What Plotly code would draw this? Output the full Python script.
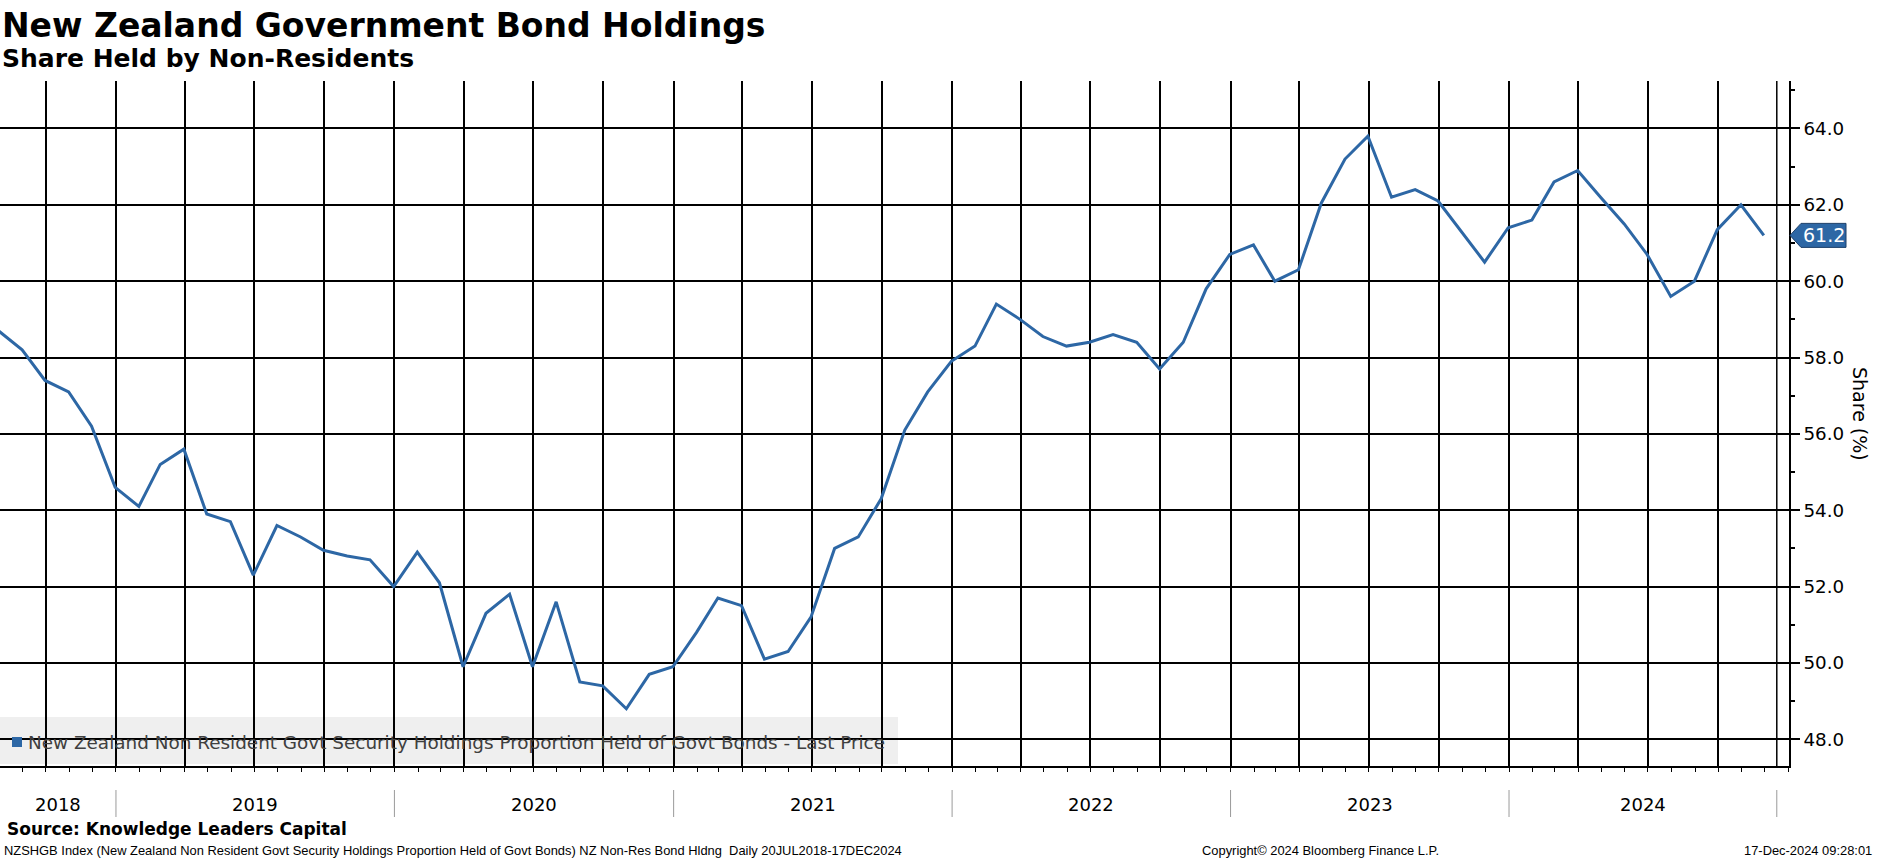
import pandas as pd
import plotly.graph_objects as go

# ---------------- data (month-end readings, %) ----------------
series_name = "New Zealand Non Resident Govt Security Holdings Proportion Held of Govt Bonds - Last Price"
first_month_end = "2018-07-31"
values_2018 = [58.7, 58.2, 57.4, 57.1, 56.2, 54.6]                      # Jul-Dec
values_2019 = [54.1, 55.2, 55.6, 53.9, 53.7, 52.3, 53.6, 53.3, 52.95, 52.8, 52.7, 52.0]
values_2020 = [52.9, 52.1, 49.9, 51.3, 51.8, 49.9, 51.6, 49.5, 49.4, 48.8, 49.7, 49.9]
values_2021 = [50.8, 51.7, 51.5, 50.1, 50.3, 51.2, 53.0, 53.3, 54.3, 56.1, 57.1, 57.9]
values_2022 = [58.3, 59.4, 59.0, 58.55, 58.3, 58.4, 58.6, 58.4, 57.7, 58.4, 59.8, 60.7]
values_2023 = [60.95, 60.0, 60.3, 62.05, 63.2, 63.8, 62.2, 62.4, 62.1, 61.3, 60.5, 61.4]
values_2024 = [61.6, 62.6, 62.9, 62.2, 61.5, 60.7, 59.6, 60.0, 61.35, 62.0, 61.2]  # Jan-Nov
year_labels = ["2018", "2019", "2020", "2021", "2022", "2023", "2024"]
y_tick_values = [48, 50, 52, 54, 56, 58, 60, 62, 64]

values = values_2018 + values_2019 + values_2020 + values_2021 + values_2022 + values_2023 + values_2024
dates = pd.date_range(first_month_end, periods=len(values), freq=pd.offsets.MonthEnd())

# ---------------- layout geometry ----------------
W, H = 1877, 859
PL, PR, PT, PB = 0, 1789, 81, 766          # plot box in pixels


def px(x):
    return (x - PL) / (PR - PL)


def py(y):
    return (PB - y) / (PB - PT)


X_START = pd.Timestamp("2018-08-02")
X_END = pd.Timestamp("2025-01-02")
DATA_END = pd.Timestamp("2024-12-17")
Y_MIN, Y_MAX = 47.30, 65.244

BLUE = "#2d67a5"
GRID_W = 1.5

fig = go.Figure()
fig.add_trace(go.Scatter(x=dates, y=values, mode="lines", name=series_name,
                         line=dict(color=BLUE, width=3), showlegend=False,
                         hovertemplate="%{x|%b %Y}: %{y:.1f}%<extra></extra>"))

shapes = []
annotations = []

# last vertical frame line at data end
shapes.append(dict(type="line", xref="x", yref="paper", x0=DATA_END, x1=DATA_END, y0=0, y1=1,
                   line=dict(color="black", width=GRID_W), layer="below"))

# year separators and year labels
for i, yl in enumerate(year_labels):
    yr = int(yl)
    start = max(pd.Timestamp(f"{yr}-01-01"), X_START)
    end = min(pd.Timestamp(f"{yr + 1}-01-01"), DATA_END)
    mid = start + (end - start) / 2
    annotations.append(dict(text=yl, xref="x", yref="paper", x=mid, y=py(804),
                            xanchor="center", yanchor="middle", showarrow=False,
                            font=dict(family="DejaVu Sans", size=18, color="black")))
    if yr > 2018:
        shapes.append(dict(type="line", xref="x", yref="paper", x0=start, x1=start,
                           y0=py(790), y1=py(817), line=dict(color="#9a9a9a", width=1)))
shapes.append(dict(type="line", xref="x", yref="paper", x0=DATA_END, x1=DATA_END,
                   y0=py(790), y1=py(817), line=dict(color="#9a9a9a", width=1)))

# legend box (below gridlines) with blue square and text
shapes.append(dict(type="rect", xref="paper", yref="paper", x0=px(0), x1=px(898), y0=py(764), y1=py(717),
                   fillcolor="#efefef", line=dict(width=0), layer="below"))
shapes.append(dict(type="rect", xref="paper", yref="paper", x0=px(12), x1=px(22), y0=py(747), y1=py(737),
                   fillcolor=BLUE, line=dict(width=0)))
annotations.append(dict(text=series_name, xref="paper", yref="paper", x=px(26), y=py(742),
                        xanchor="left", yanchor="middle", showarrow=False,
                        font=dict(family="DejaVu Sans", size=18.4, color="#404040")))

# last value tag on the right axis
last_val = values[-1]
yv = (last_val - Y_MIN) / (Y_MAX - Y_MIN)
ypx = PB - yv * (PB - PT)
path = (f"M {px(1790)} {py(ypx)} L {px(1801)} {py(ypx - 12)} L {px(1846)} {py(ypx - 12)} "
        f"L {px(1846)} {py(ypx + 12)} L {px(1801)} {py(ypx + 12)} Z")
shapes.append(dict(type="path", xref="paper", yref="paper", path=path,
                   fillcolor=BLUE, line=dict(color="#1d3f68", width=1)))
annotations.append(dict(text=f"{last_val:.1f}", xref="paper", yref="paper", x=px(1824), y=yv,
                        xanchor="center", yanchor="middle", showarrow=False,
                        font=dict(family="DejaVu Sans", size=19, color="white")))

# axis title (reads top to bottom)
annotations.append(dict(text="Share (%)", xref="paper", yref="paper", x=px(1860), y=py(414),
                        xanchor="center", yanchor="middle", textangle=90, showarrow=False,
                        font=dict(family="DejaVu Sans", size=19, color="black")))

# titles
annotations.append(dict(text="<b>New Zealand Government Bond Holdings</b>", xref="paper", yref="paper",
                        x=px(0), y=py(25), xanchor="left", yanchor="middle", showarrow=False,
                        font=dict(family="DejaVu Sans", size=33, color="black")))
annotations.append(dict(text="<b>Share Held by Non-Residents</b>", xref="paper", yref="paper",
                        x=px(0), y=py(58), xanchor="left", yanchor="middle", showarrow=False,
                        font=dict(family="DejaVu Sans", size=25, color="black")))

# source and footer
annotations.append(dict(text="<b>Source: Knowledge Leaders Capital</b>", xref="paper", yref="paper",
                        x=px(5), y=py(829), xanchor="left", yanchor="middle", showarrow=False,
                        font=dict(family="DejaVu Sans", size=17, color="black")))
footer_font = dict(family="Liberation Sans", size=12.9, color="black")
annotations.append(dict(text="NZSHGB Index (New Zealand Non Resident Govt Security Holdings Proportion Held of Govt Bonds) "
                             "NZ Non-Res Bond Hldng  Daily 20JUL2018-17DEC2024",
                        xref="paper", yref="paper", x=px(2), y=py(850), xanchor="left", yanchor="middle",
                        showarrow=False, font=footer_font))
annotations.append(dict(text="Copyright© 2024 Bloomberg Finance L.P.", xref="paper", yref="paper",
                        x=px(1200), y=py(850), xanchor="left", yanchor="middle", showarrow=False, font=footer_font))
annotations.append(dict(text="17-Dec-2024 09:28:01", xref="paper", yref="paper",
                        x=px(1874), y=py(850), xanchor="right", yanchor="middle", showarrow=False, font=footer_font))

fig.update_layout(
    width=W, height=H, autosize=False,
    margin=dict(l=PL, r=W - PR, t=PT, b=H - PB, pad=0),
    paper_bgcolor="white", plot_bgcolor="white",
    showlegend=False,
    shapes=shapes, annotations=annotations,
    xaxis=dict(type="date", range=[X_START, X_END], tick0="2018-01-01", dtick="M3",
               showgrid=True, gridcolor="black", gridwidth=GRID_W,
               showticklabels=False, ticks="outside", ticklen=4, tickcolor="black", tickwidth=1,
               showline=True, linecolor="black", linewidth=1.5, zeroline=False,
               minor=dict(dtick="M1", ticks="outside", ticklen=4, tickcolor="black", tickwidth=1,
                          showgrid=False)),
    yaxis=dict(side="right", range=[Y_MIN, Y_MAX], tickmode="array", tickvals=y_tick_values,
               tickformat=".1f", showgrid=True, gridcolor="black", gridwidth=GRID_W,
               showline=True, linecolor="black", linewidth=1.5, zeroline=False,
               ticks="outside", ticklen=9, tickwidth=2, tickcolor="black",
               tickfont=dict(family="DejaVu Sans", size=18.3, color="black"),
               minor=dict(dtick=1, tick0=47, ticks="outside", ticklen=4, tickcolor="black", showgrid=False)),
)

fig.write_html("out.html", config={"displayModeBar": False},
               post_script="document.body.style.margin='0';document.body.style.overflow='hidden';"
                           "document.documentElement.style.overflow='hidden';")
